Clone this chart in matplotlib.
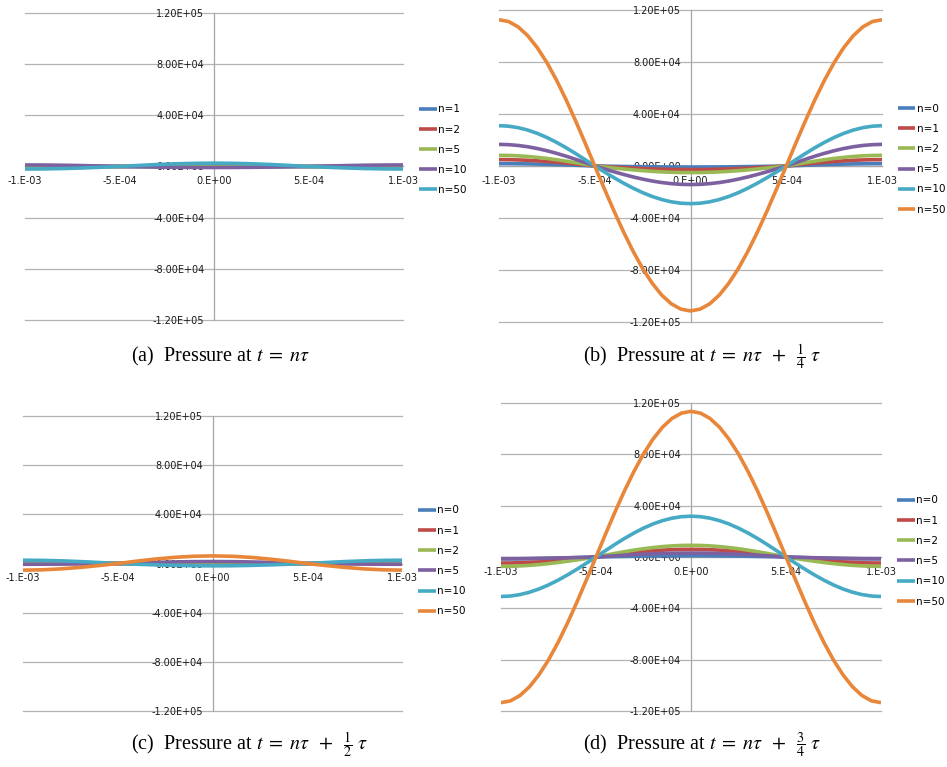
import matplotlib
matplotlib.use("Agg")
import matplotlib.pyplot as plt
from matplotlib.ticker import FuncFormatter
import numpy as np

# sample positions, in units of 1e-4 m
X_COARSE = [-10, -9, -8, -7, -6, -5, -4, -3, -2, -1, 0, 1, 2, 3, 4, 5, 6, 7, 8, 9, 10]
X_FINE = [-10, -9.5, -9, -8.5, -8, -7.5, -7, -6.5, -6, -5.5, -5, -4.5, -4, -3.5, -3, -2.5, -2, -1.5, -1, -0.5, 0,
          0.5, 1, 1.5, 2, 2.5, 3, 3.5, 4, 4.5, 5, 5.5, 6, 6.5, 7, 7.5, 8, 8.5, 9, 9.5, 10]

# pressures, in units of 1e3
# (a) t = n tau
A_LABELS = ["n=1", "n=2", "n=5", "n=10", "n=50"]
A_N1 = [0.5, 0.48, 0.4, 0.29, 0.15, 0, -0.09, -0.18, -0.24, -0.29, -0.3, -0.29, -0.24, -0.18, -0.09, 0, 0.15, 0.29, 0.4, 0.48, 0.5]
A_N2 = [-0.5, -0.48, -0.4, -0.29, -0.15, 0, 0.25, 0.47, 0.65, 0.76, 0.8, 0.76, 0.65, 0.47, 0.25, 0, -0.15, -0.29, -0.4, -0.48, -0.5]
A_N5 = [-0.3, -0.29, -0.24, -0.18, -0.09, 0, 0.09, 0.18, 0.24, 0.29, 0.3, 0.29, 0.24, 0.18, 0.09, 0, -0.09, -0.18, -0.24, -0.29, -0.3]
A_N10 = [1.2, 1.14, 0.97, 0.71, 0.37, 0, -0.25, -0.47, -0.65, -0.76, -0.8, -0.76, -0.65, -0.47, -0.25, 0, 0.37, 0.71, 0.97, 1.14, 1.2]
A_N50 = [-2.0, -1.9, -1.62, -1.18, -0.62, 0, 0.8, 1.53, 2.1, 2.47, 2.6, 2.47, 2.1, 1.53, 0.8, 0, -0.62, -1.18, -1.62, -1.9, -2.0]

# (b) t = n tau + tau/4
B_LABELS = ["n=0", "n=1", "n=2", "n=5", "n=10", "n=50"]
B_N0 = [1.8, 1.78, 1.71, 1.6, 1.46, 1.27, 1.06, 0.82, 0.56, 0.28, 0, -0.13, -0.25, -0.36, -0.47, -0.57, -0.65, -0.71, -0.76, -0.79, -0.8,
        -0.79, -0.76, -0.71, -0.65, -0.57, -0.47, -0.36, -0.25, -0.13, 0, 0.28, 0.56, 0.82, 1.06, 1.27, 1.46, 1.6, 1.71, 1.78, 1.8]
B_N1 = [4.9, 4.84, 4.66, 4.37, 3.96, 3.46, 2.88, 2.22, 1.51, 0.77, 0, -0.44, -0.87, -1.27, -1.65, -1.98, -2.27, -2.49, -2.66, -2.77, -2.8,
        -2.77, -2.66, -2.49, -2.27, -1.98, -1.65, -1.27, -0.87, -0.44, 0, 0.77, 1.51, 2.22, 2.88, 3.46, 3.96, 4.37, 4.66, 4.84, 4.9]
B_N2 = [8.2, 8.1, 7.8, 7.31, 6.63, 5.8, 4.82, 3.72, 2.53, 1.28, 0, -0.8, -1.58, -2.32, -3.0, -3.61, -4.13, -4.54, -4.85, -5.04, -5.1,
        -5.04, -4.85, -4.54, -4.13, -3.61, -3.0, -2.32, -1.58, -0.8, 0, 1.28, 2.53, 3.72, 4.82, 5.8, 6.63, 7.31, 7.8, 8.1, 8.2]
B_N5 = [16.6, 16.4, 15.79, 14.79, 13.43, 11.74, 9.76, 7.54, 5.13, 2.6, 0, -2.24, -4.42, -6.49, -8.41, -10.11, -11.57, -12.74, -13.6, -14.12, -14.3,
        -14.12, -13.6, -12.74, -11.57, -10.11, -8.41, -6.49, -4.42, -2.24, 0, 2.6, 5.13, 7.54, 9.76, 11.74, 13.43, 14.79, 15.79, 16.4, 16.6]
B_N10 = [31.0, 30.62, 29.48, 27.62, 25.08, 21.92, 18.22, 14.07, 9.58, 4.85, 0, -4.54, -8.96, -13.17, -17.05, -20.51, -23.46, -25.84, -27.58, -28.64, -29.0,
         -28.64, -27.58, -25.84, -23.46, -20.51, -17.05, -13.17, -8.96, -4.54, 0, 4.85, 9.58, 14.07, 18.22, 21.92, 25.08, 27.62, 29.48, 30.62, 31.0]
B_N50 = [112.5, 111.12, 107.0, 100.24, 91.01, 79.55, 66.13, 51.08, 34.76, 17.6, 0, -17.44, -34.45, -50.62, -65.54, -78.84, -90.2, -99.35, -106.05, -110.13, -111.5,
         -110.13, -106.05, -99.35, -90.2, -78.84, -65.54, -50.62, -34.45, -17.44, 0, 17.6, 34.76, 51.08, 66.13, 79.55, 91.01, 100.24, 107.0, 111.12, 112.5]

# (c) t = n tau + tau/2
C_LABELS = ["n=0", "n=1", "n=2", "n=5", "n=10", "n=50"]
C_N0 = [1.5, 1.43, 1.21, 0.88, 0.46, 0, -0.25, -0.47, -0.65, -0.76, -0.8, -0.76, -0.65, -0.47, -0.25, 0, 0.46, 0.88, 1.21, 1.43, 1.5]
C_N1 = [0.8, 0.76, 0.65, 0.47, 0.25, 0, -0.09, -0.18, -0.24, -0.29, -0.3, -0.29, -0.24, -0.18, -0.09, 0, 0.25, 0.47, 0.65, 0.76, 0.8]
C_N2 = [1.0, 0.95, 0.81, 0.59, 0.31, 0, -0.12, -0.24, -0.32, -0.38, -0.4, -0.38, -0.32, -0.24, -0.12, 0, 0.31, 0.59, 0.81, 0.95, 1.0]
C_N5 = [-0.6, -0.57, -0.49, -0.35, -0.19, 0, 0.49, 0.94, 1.29, 1.52, 1.6, 1.52, 1.29, 0.94, 0.49, 0, -0.19, -0.35, -0.49, -0.57, -0.6]
C_N10 = [2.7, 2.57, 2.18, 1.59, 0.83, 0, -0.59, -1.12, -1.54, -1.81, -1.9, -1.81, -1.54, -1.12, -0.59, 0, 0.83, 1.59, 2.18, 2.57, 2.7]
C_N50 = [-5.4, -5.14, -4.37, -3.18, -1.67, 0, 1.92, 3.65, 5.02, 5.9, 6.2, 5.9, 5.02, 3.65, 1.92, 0, -1.67, -3.18, -4.37, -5.14, -5.4]

# (d) t = n tau + 3 tau/4
D_LABELS = ["n=0", "n=1", "n=2", "n=5", "n=10", "n=50"]
D_N0 = [-1.5, -1.48, -1.43, -1.34, -1.21, -1.06, -0.88, -0.68, -0.46, -0.23, 0, 0.16, 0.31, 0.45, 0.59, 0.71, 0.81, 0.89, 0.95, 0.99, 1.0,
        0.99, 0.95, 0.89, 0.81, 0.71, 0.59, 0.45, 0.31, 0.16, 0, -0.23, -0.46, -0.68, -0.88, -1.06, -1.21, -1.34, -1.43, -1.48, -1.5]
D_N1 = [-4.7, -4.64, -4.47, -4.19, -3.8, -3.32, -2.76, -2.13, -1.45, -0.74, 0, 0.94, 1.85, 2.72, 3.53, 4.24, 4.85, 5.35, 5.71, 5.93, 6.0,
        5.93, 5.71, 5.35, 4.85, 4.24, 3.53, 2.72, 1.85, 0.94, 0, -0.74, -1.45, -2.13, -2.76, -3.32, -3.8, -4.19, -4.47, -4.64, -4.7]
D_N2 = [-7.3, -7.21, -6.94, -6.5, -5.91, -5.16, -4.29, -3.31, -2.26, -1.14, 0, 1.42, 2.81, 4.13, 5.35, 6.43, 7.36, 8.11, 8.65, 8.99, 9.1,
        8.99, 8.65, 8.11, 7.36, 6.43, 5.35, 4.13, 2.81, 1.42, 0, -1.14, -2.26, -3.31, -4.29, -5.16, -5.91, -6.5, -6.94, -7.21, -7.3]
D_N5 = [-1.3, -1.28, -1.24, -1.16, -1.05, -0.92, -0.76, -0.59, -0.4, -0.2, 0, 0.48, 0.96, 1.41, 1.82, 2.19, 2.51, 2.76, 2.95, 3.06, 3.1,
        3.06, 2.95, 2.76, 2.51, 2.19, 1.82, 1.41, 0.96, 0.48, 0, -0.2, -0.4, -0.59, -0.76, -0.92, -1.05, -1.16, -1.24, -1.28, -1.3]
D_N10 = [-30.8, -30.42, -29.29, -27.44, -24.92, -21.78, -18.1, -13.98, -9.52, -4.82, 0, 4.97, 9.83, 14.44, 18.69, 22.49, 25.73, 28.33, 30.24, 31.41, 31.8,
         31.41, 30.24, 28.33, 25.73, 22.49, 18.69, 14.44, 9.83, 4.97, 0, -4.82, -9.52, -13.98, -18.1, -21.78, -24.92, -27.44, -29.29, -30.42, -30.8]
D_N50 = [-113.5, -112.1, -107.95, -101.13, -91.82, -80.26, -66.72, -51.53, -35.07, -17.75, 0, 17.75, 35.07, 51.53, 66.72, 80.26, 91.82, 101.13, 107.95, 112.1, 113.5,
         112.1, 107.95, 101.13, 91.82, 80.26, 66.72, 51.53, 35.07, 17.75, 0, -17.75, -35.07, -51.53, -66.72, -80.26, -91.82, -101.13, -107.95, -112.1, -113.5]

Y_TICKS = [-1.2e5, -8e4, -4e4, 0, 4e4, 8e4, 1.2e5]
X_TICKS = [-1e-3, -5e-4, 0, 5e-4, 1e-3]

COLS_A = ["#4A7EBB", "#BE4B48", "#98B954", "#7D60A0", "#46AAC5"]
COLS = ["#4A7EBB", "#BE4B48", "#98B954", "#7D60A0", "#46AAC5", "#E8863A"]

CAPTIONS = [r"(a)  Pressure at $t\; =\; n\tau$",
            r"(b)  Pressure at $t\; =\; n\tau\;\; +\;\; \genfrac{}{}{0.5}{1}{1}{4}\;\tau$",
            r"(c)  Pressure at $t\; =\; n\tau\;\; +\;\; \genfrac{}{}{0.5}{1}{1}{2}\;\tau$",
            r"(d)  Pressure at $t\; =\; n\tau\;\; +\;\; \genfrac{}{}{0.5}{1}{3}{4}\;\tau$"]

plt.rcParams['mathtext.fontset'] = 'stix'

fig = plt.figure(figsize=(9.47, 7.67), dpi=100)

panels = [
    ([0.0264, 0.5828, 0.3992, 0.4003], A_LABELS, X_COARSE, [A_N1, A_N2, A_N5, A_N10, A_N50], COLS_A, (0.4425, 0.864), (0.1383, 0.5346)),
    ([0.5269, 0.5802, 0.4045, 0.4068], B_LABELS, X_FINE, [B_N0, B_N1, B_N2, B_N5, B_N10, B_N50], COLS, (0.948, 0.865), (0.6156, 0.5346)),
    ([0.0243, 0.0730, 0.4002, 0.3846], C_LABELS, X_COARSE, [C_N0, C_N1, C_N2, C_N5, C_N10, C_N50], COLS, (0.4414, 0.341), (0.1383, 0.0287)),
    ([0.5290, 0.0730, 0.4013, 0.4016], D_LABELS, X_FINE, [D_N0, D_N1, D_N2, D_N5, D_N10, D_N50], COLS, (0.947, 0.354), (0.6156, 0.0287)),
]

for (rect, labels, xs, series, cols, leg_xy, cap_xy), cap in zip(panels, CAPTIONS):
    ax = fig.add_axes(rect)
    for yt in Y_TICKS:
        ax.axhline(yt, color='#B4B4B4', lw=0.9, zorder=0.5, clip_on=False)
    for lab, ys, c in zip(labels, series, cols):
        ax.plot(np.array(xs) * 1e-4, np.array(ys) * 1e3, color=c, lw=2.6, label=lab,
                solid_capstyle='butt', solid_joinstyle='round')
    ax.set_xlim(-1e-3, 1e-3)
    ax.set_ylim(-1.2e5, 1.2e5)
    ax.set_yticks(Y_TICKS)
    ax.set_xticks(X_TICKS)
    ax.yaxis.set_major_formatter(FuncFormatter(lambda v, p: f"{v:.2E}"))
    ax.xaxis.set_major_formatter(FuncFormatter(lambda v, p: f"{v:#.0E}"))
    for s in ['top', 'right']:
        ax.spines[s].set_visible(False)
    ax.spines['left'].set_position('zero')
    ax.spines['bottom'].set_position('zero')
    for s in ['left', 'bottom']:
        ax.spines[s].set_color('#A6A6A6')
        ax.spines[s].set_linewidth(0.9)
        ax.spines[s].set_zorder(1)
    ax.tick_params(length=0, labelsize=7, labelcolor='#1a1a1a')
    ax.tick_params(axis='y', pad=7)
    ax.tick_params(axis='x', pad=7)
    ax.patch.set_visible(False)
    ax.legend(loc='upper left', bbox_to_anchor=leg_xy, bbox_transform=fig.transFigure,
              frameon=False, fontsize=7.5, handlelength=1.7, handletextpad=0.1,
              labelspacing=0.98, borderpad=0, borderaxespad=0)
    fig.text(cap_xy[0], cap_xy[1], cap, ha='left', va='center',
             family='Liberation Serif', fontsize=14.5)

fig.savefig("out.png", dpi=100)
